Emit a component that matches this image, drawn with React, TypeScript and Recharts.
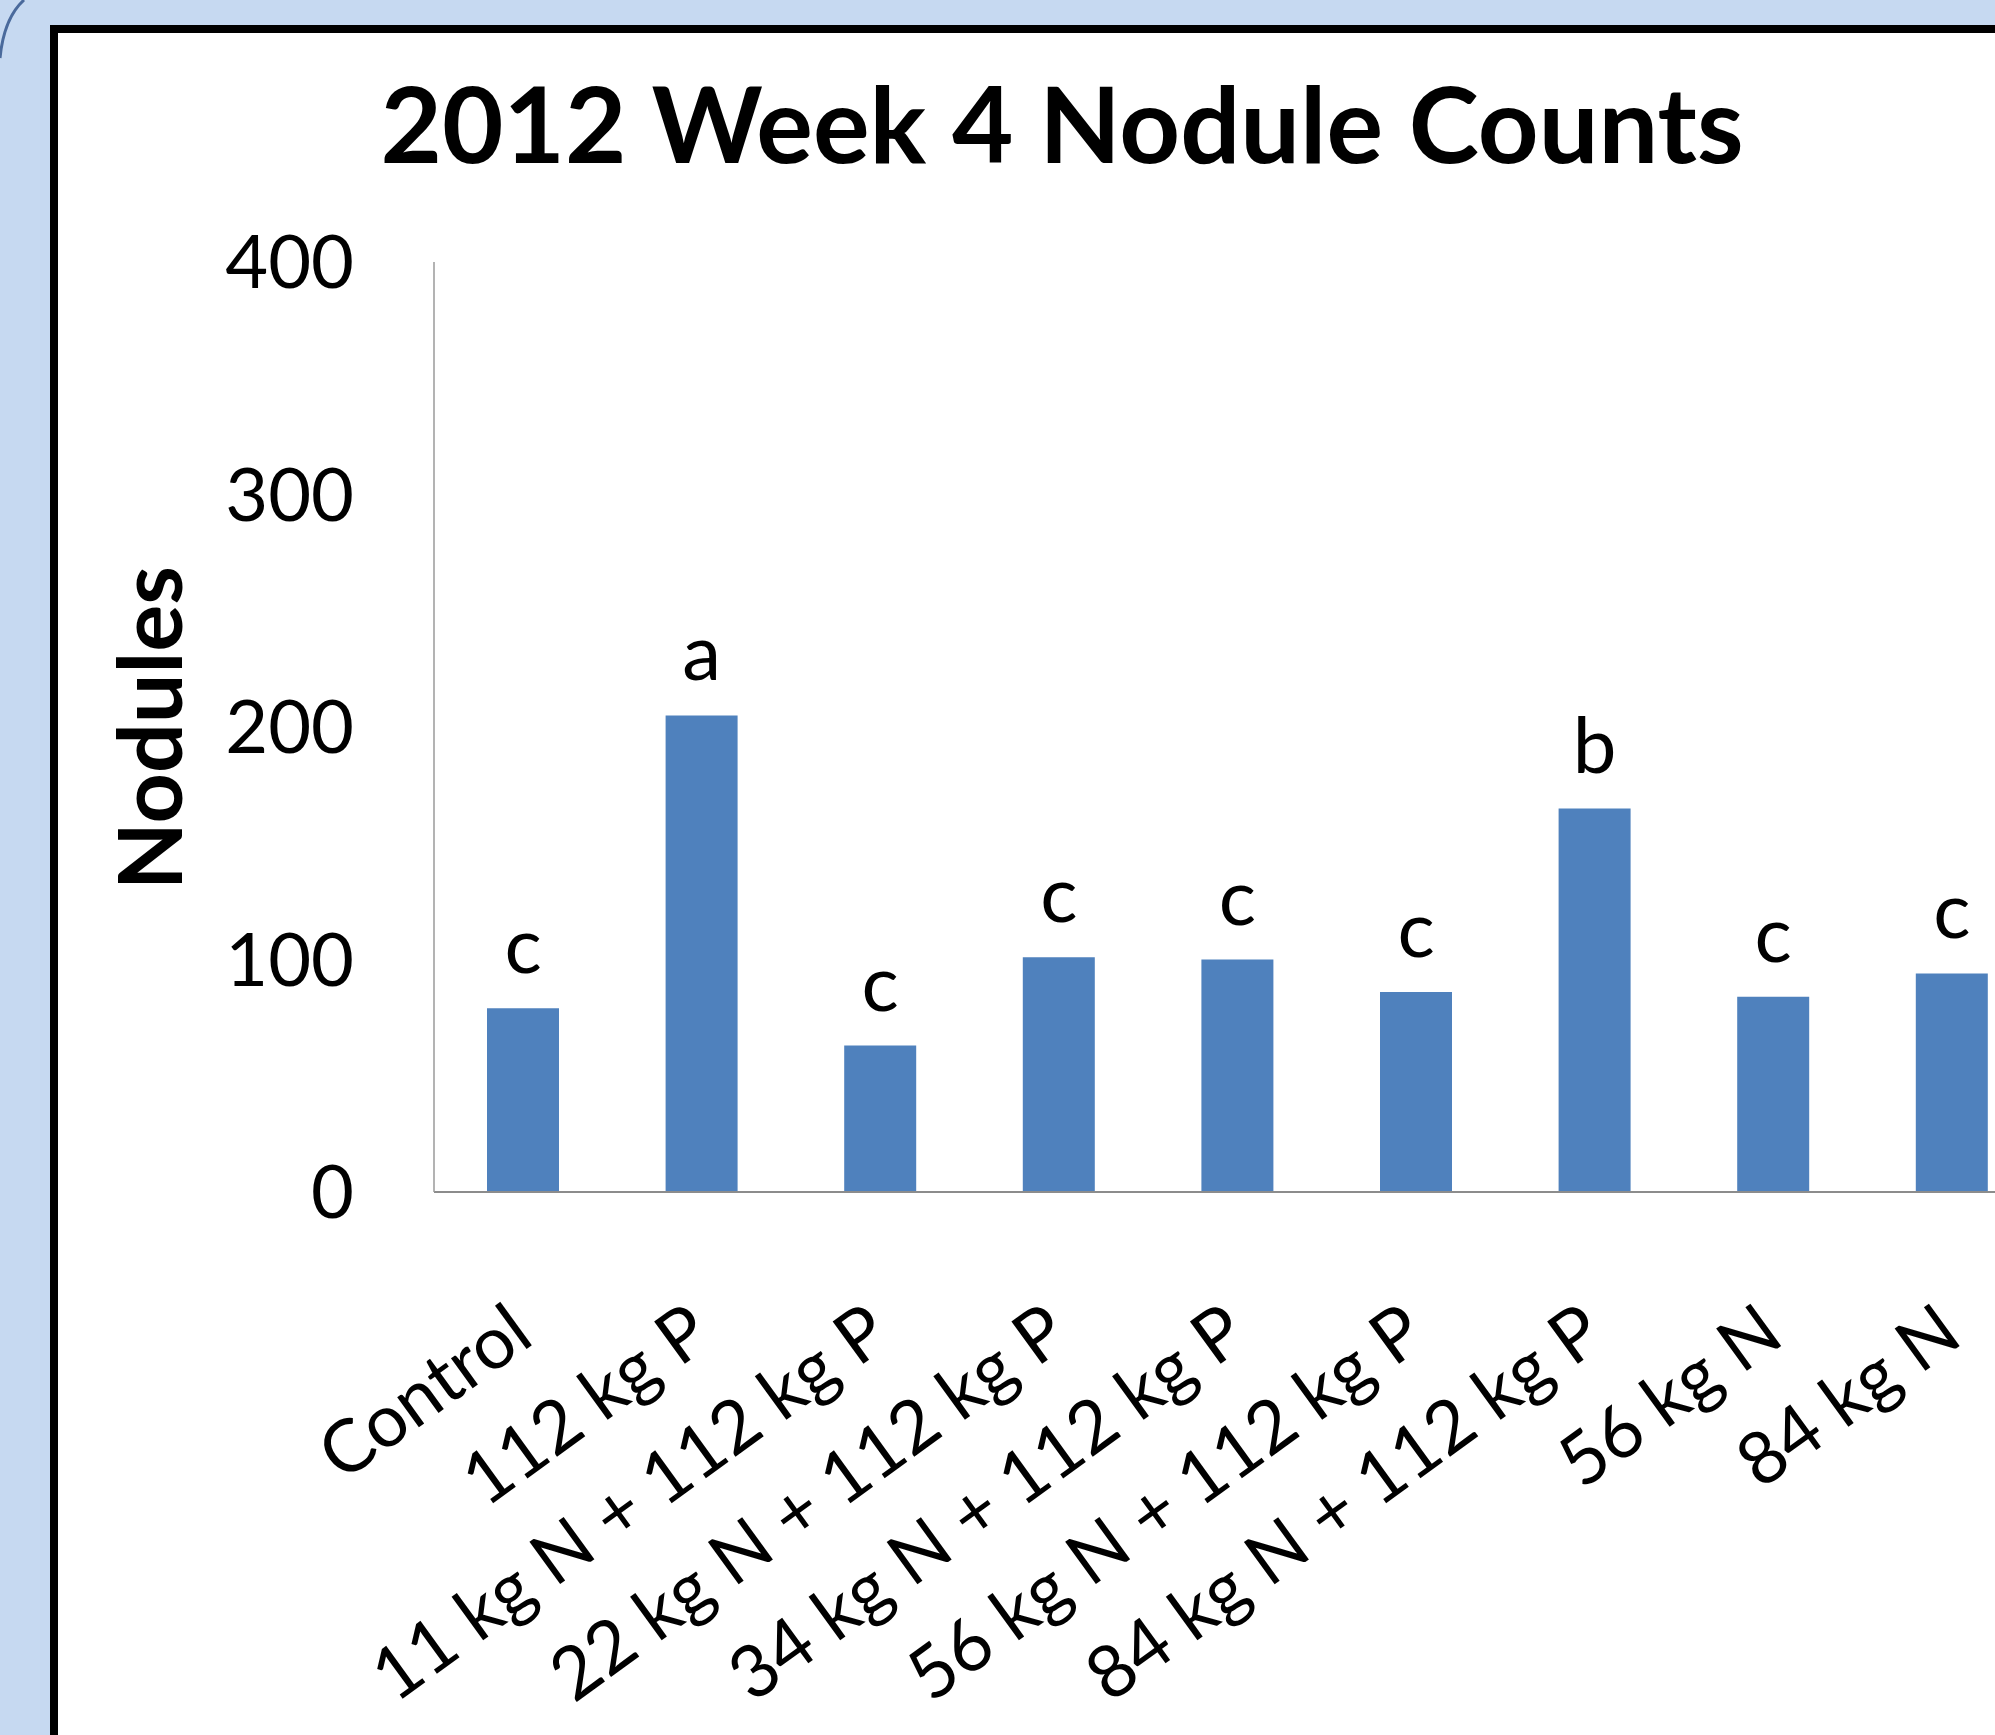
import React from "react";
import { BarChart, Bar, XAxis, YAxis, LabelList } from "recharts";

const categories = [
  "Control",
  "112 kg P",
  "11 kg N + 112 kg P",
  "22 kg N + 112 kg P",
  "34 kg N + 112 kg P",
  "56 kg N + 112 kg P",
  "84 kg N + 112 kg P",
  "56 kg N",
  "84 kg N",
];
const nodules = [79, 205, 63, 101, 100, 86, 165, 84, 94];
const letters = ["c", "a", "c", "c", "c", "c", "b", "c", "c"];
const yTicks = [0, 100, 200, 300, 400];

const data = categories.map((name, i) => ({ name, nodules: nodules[i], letter: letters[i] }));

const FONT = "Lato, 'Open Sans', sans-serif";

const XTick = (props: any) => {
  const { x, y, payload } = props;
  const ax = x + 13;
  const ay = y + 150;
  return (
    <text
      x={ax}
      y={ay}
      textAnchor="end"
      transform={`rotate(-36, ${ax}, ${ay})`}
      fontFamily={FONT}
      fontSize={73}
      fill="#000"
    >
      {payload.value}
    </text>
  );
};

const LetterLabel = (props: any) => {
  const { x, y, width, index } = props;
  return (
    <text
      x={x + width / 2}
      y={y - 35}
      textAnchor="middle"
      fontFamily={FONT}
      fontSize={78}
      fill="#000"
    >
      {letters[index]}
    </text>
  );
};

const YTitle = () => (
  <text
    x={182}
    y={728}
    textAnchor="middle"
    transform="rotate(-90, 182, 728)"
    fontFamily={FONT}
    fontWeight={700}
    fontSize={88}
    fill="#000"
  >
    Nodules
  </text>
);

export default function App() {
  return (
    <div
      style={{
        position: "absolute",
        left: 0,
        top: 0,
        width: 1995,
        height: 1735,
        overflow: "hidden",
        background: "#C6D9F1",
      }}
    >
      <div
        style={{
          position: "absolute",
          left: 50,
          top: 25,
          width: 2300,
          height: 2000,
          border: "8px solid #000",
          background: "#fff",
          boxSizing: "border-box",
        }}
      />
      <div style={{ position: "absolute", left: 0, top: 0 }}>
        <BarChart
          width={2100}
          height={1735}
          data={data}
          margin={{ top: 262, right: 58.6, bottom: 0, left: 0 }}
        >
          <XAxis
            dataKey="name"
            height={543}
            interval={0}
            tickLine={false}
            tickSize={0}
            tickMargin={0}
            tick={<XTick />}
            axisLine={{ stroke: "#8c8c8c", strokeWidth: 2 }}
          />
          <YAxis
            domain={[0, 400]}
            ticks={yTicks}
            width={434}
            tickLine={false}
            tickSize={0}
            tickMargin={80}
            axisLine={{ stroke: "#9a9a9a", strokeWidth: 1.5 }}
            tick={{ fontFamily: FONT, fontSize: 74, fill: "#000" }}
            label={{ content: <YTitle /> }}
          />
          <Bar dataKey="nodules" fill="#4F81BD" barSize={72} isAnimationActive={false}>
            <LabelList dataKey="letter" content={<LetterLabel />} />
          </Bar>
        </BarChart>
      </div>
      <svg
        width={1995}
        height={1735}
        style={{ position: "absolute", left: 0, top: 0, pointerEvents: "none" }}
      >
        <path d="M 0 58 Q 4 18 24 0" fill="none" stroke="#4a6a9c" strokeWidth={3} />
        <text
          x={1062}
          y={163}
          textAnchor="middle"
          fontFamily={FONT}
          fontWeight={700}
          fontSize={106}
          fill="#000"
        >
          2012 Week 4 Nodule Counts
        </text>
      </svg>
    </div>
  );
}
